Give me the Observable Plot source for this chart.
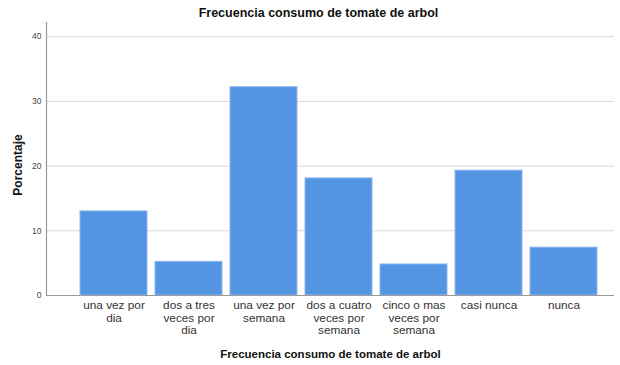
<!DOCTYPE html>
<html>
<head>
<meta charset="utf-8">
<script src="https://cdn.jsdelivr.net/npm/d3@7"></script>
<script src="https://cdn.jsdelivr.net/npm/@observablehq/plot@0.6"></script>
<style>
  html, body { margin: 0; padding: 0; background: #fff; }
</style>
</head>
<body>
<div id="chart"></div>
<script>
const title = "Frecuencia consumo de tomate de arbol";
const xTitle = "Frecuencia consumo de tomate de arbol";
const yTitle = "Porcentaje";
const categories = ["una vez por dia", "dos a tres veces por dia", "una vez por semana", "dos a cuatro veces por semana", "cinco o mas veces por semana", "casi nunca", "nunca"];
const tickLabels = ["una vez por\ndia", "dos a tres\nveces por\ndia", "una vez por\nsemana", "dos a cuatro\nveces por\nsemana", "cinco o mas\nveces por\nsemana", "casi nunca", "nunca"];
const values = [13.0, 5.2, 32.2, 18.1, 4.8, 19.3, 7.4];
const yTicks = [0, 10, 20, 30, 40];

const data = categories.map((c, i) => ({cat: c, value: values[i]}));

const chart = Plot.plot({
  width: 620,
  height: 365,
  marginLeft: 46,
  marginRight: 6,
  marginTop: 22,
  marginBottom: 70,
  style: {fontFamily: "'Liberation Sans', Arial, sans-serif", background: "#fff", color: "#222"},
  x: {domain: categories, range: [76, 601], paddingInner: 0.1067, paddingOuter: 0.0533, label: null},
  y: {domain: [0, 42.2], label: null},
  marks: [
    Plot.gridY(yTicks, {stroke: "#d9d9d9", strokeOpacity: 1}),
    Plot.barY(data, {x: "cat", y: "value", fill: "#5394e3", stroke: "#8fb8ec", strokeWidth: 1}),
    Plot.ruleY([0], {stroke: "#9a9a9a", strokeWidth: 1.2}),
    Plot.frame({anchor: "left", stroke: "#9a9a9a", strokeWidth: 1.2}),
    Plot.axisY(yTicks, {tickSize: 0, tickPadding: 5, fontSize: 8.5, fill: "#444", label: null}),
    Plot.axisX({tickSize: 0, tickPadding: 5, fontSize: 11.8, fill: "#333", lineHeight: 1.06, tickFormat: (d) => tickLabels[categories.indexOf(d)], label: null}),
    Plot.text([title], {frameAnchor: "top", lineAnchor: "middle", dy: -10, dx: -12, fontWeight: "bold", fontSize: 12.5, fill: "#111"}),
    Plot.text([xTitle], {frameAnchor: "bottom", lineAnchor: "middle", dy: 59, fontWeight: "bold", fontSize: 11.5, fill: "#111"}),
    Plot.text([yTitle], {frameAnchor: "left", textAnchor: "middle", lineAnchor: "middle", dx: -28, dy: 6, rotate: -90, fontWeight: "bold", fontSize: 12, fill: "#111"})
  ]
});
document.getElementById("chart").appendChild(chart);
</script>
</body>
</html>
